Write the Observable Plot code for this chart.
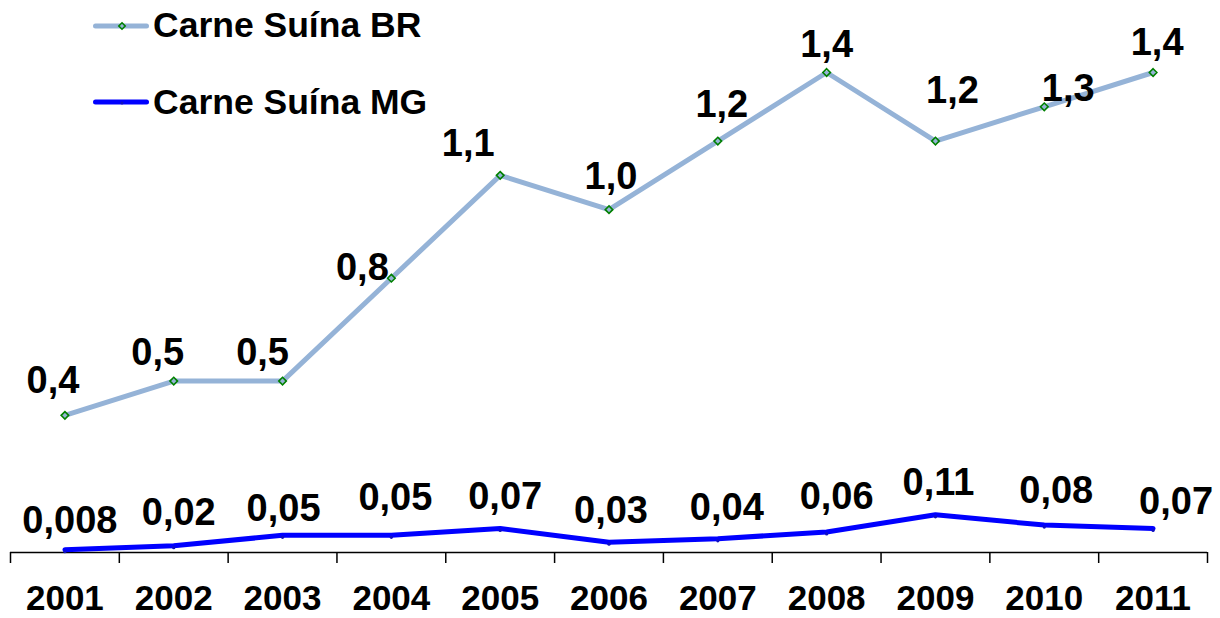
<!DOCTYPE html>
<html>
<head>
<meta charset="utf-8">
<script src="https://cdn.jsdelivr.net/npm/d3@7"></script>
<script src="https://cdn.jsdelivr.net/npm/@observablehq/plot@0.6"></script>
<style>
  html, body { margin: 0; padding: 0; background: #fff; }
  #wrap { position: relative; width: 1220px; height: 618px; font-family: "Liberation Sans", Arial, sans-serif; }
  #legend { position: absolute; left: 0; top: 0; }
  .item { position: absolute; left: 93px; display: flex; align-items: center; white-space: nowrap; }
  .item span { font-size: 35.5px; font-weight: bold; color: #000; margin-left: 4px; }
</style>
</head>
<body>
<div id="wrap"><div id="legend"></div></div>
<script>
// ---- data ----
const years = [2001, 2002, 2003, 2004, 2005, 2006, 2007, 2008, 2009, 2010, 2011];
const brValues = [0.4, 0.5, 0.5, 0.8, 1.1, 1.0, 1.2, 1.4, 1.2, 1.3, 1.4];
const mgValues = [0.008, 0.02, 0.05, 0.05, 0.07, 0.03, 0.04, 0.06, 0.11, 0.08, 0.07];
const seriesNames = ["Carne Suína BR", "Carne Suína MG"];

// label nudges (px, relative to each point) as placed in the original
const brLabelDx = [-12, -16, -20, -29, -32, 2, 4, 0, 17, 24, 4];
const brLabelDy = [-35, -28, -28, -10, -32, -33, -36, -28, -50, -18, -30];
const mgLabelDx = [5, 5, 1, 4, 5, 2, 9, 10, 3, 12, 23];
const mgLabelDy = [-29, -33, -27, -38, -32, -31, -31, -35, -32, -34, -27];

const brColor = "#95B3D7";
const mgColor = "#0000FF";
const font = "'Liberation Sans', Arial, sans-serif";

const br = years.map((year, i) => ({year, value: brValues[i], label: brValues[i].toFixed(1).replace(".", ",")}));
const mg = years.map((year, i) => ({year, value: mgValues[i], label: String(mgValues[i]).replace(".", ",")}));
const boundaries = years.map(y => y - 0.5).concat([years[years.length - 1] + 0.5]);

const width = 1220, height = 618, marginBottom = 66;

const labelMarks = (rows, dxs, dys) => rows.map((r, i) => Plot.text([r], {
  x: "year", y: "value", text: "label",
  dx: dxs[i], dy: dys[i],
  fontSize: 38, fontWeight: "bold", fill: "#000", fontFamily: font
}));

const chart = Plot.plot({
  width, height,
  marginLeft: 10, marginRight: 13, marginTop: 0, marginBottom,
  style: {fontFamily: font, background: "#fff", color: "#000", overflow: "visible"},
  x: {domain: [boundaries[0], boundaries[boundaries.length - 1]], axis: null},
  y: {domain: [0, 1.4], range: [height - marginBottom, 72], axis: null},
  marks: [
    Plot.ruleY([0], {stroke: "#000", strokeWidth: 1.5}),
    Plot.axisX({ticks: boundaries, tickSize: 11, tickFormat: () => "", strokeWidth: 1.5, stroke: "#000", label: null}),
    Plot.axisX({ticks: years, tickSize: 0, tickPadding: 33, tickFormat: d => String(d),
      fontSize: 35, fontWeight: "bold", fill: "#000", label: null}),
    Plot.line(br, {x: "year", y: "value", stroke: brColor, strokeWidth: 5, strokeLinejoin: "miter"}),
    Plot.dot(br, {x: "year", y: "value", symbol: "diamond2", r: 3.4, stroke: "#008000", strokeWidth: 1.6, fill: "none"}),
    Plot.line(mg, {x: "year", y: "value", stroke: mgColor, strokeWidth: 5, strokeLinejoin: "miter"}),
    Plot.dot(mg, {x: "year", y: "value", r: 1.6, fill: "#1010c0", dy: 2}),
    ...labelMarks(br, brLabelDx, brLabelDy),
    ...labelMarks(mg, mgLabelDx, mgLabelDy)
  ]
});
document.getElementById("wrap").prepend(chart);

// legend
const legend = document.getElementById("legend");
const legendTops = [25.5, 102];
const legendColors = [brColor, mgColor];
seriesNames.forEach((name, i) => {
  const item = document.createElement("div");
  item.className = "item";
  item.style.top = (legendTops[i] - 22) + "px";
  item.style.height = "44px";
  const marker = i === 0
    ? `<path d="M29 1.8 L32.2 5 L29 8.2 L25.8 5 Z" fill="none" stroke="#008000" stroke-width="1.6"/>`
    : `<circle cx="29" cy="6" r="1.5" fill="#1010c0"/>`;
  item.innerHTML = `<svg width="56" height="10" style="overflow:visible"><line x1="2.5" y1="5" x2="53.5" y2="5" stroke="${legendColors[i]}" stroke-width="5" stroke-linecap="round"/>${marker}</svg><span>${name}</span>`;
  legend.appendChild(item);
});
</script>
</body>
</html>
